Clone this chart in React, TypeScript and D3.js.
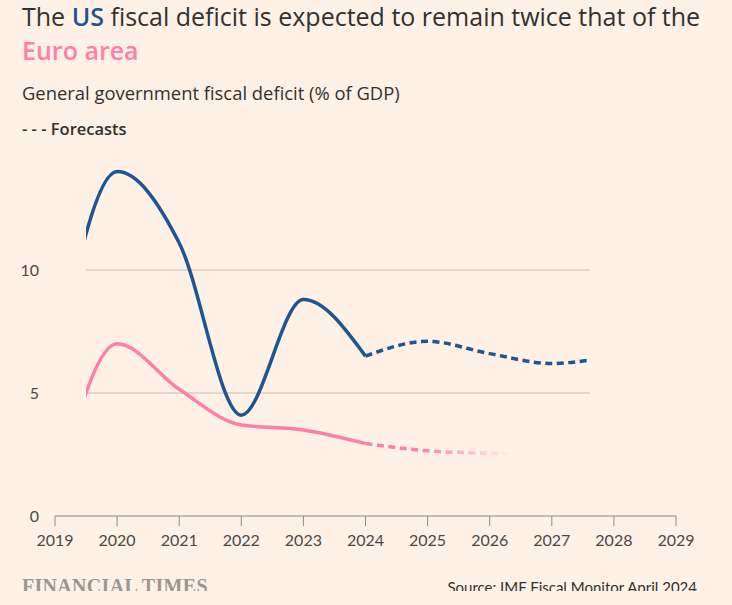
import React from "react";
import * as d3 from "d3";

const years = [2019, 2020, 2021, 2022, 2023, 2024, 2025, 2026, 2027, 2028, 2029];
const usValues = [5.9, 14.0, 11.1, 4.1, 8.8, 6.5, 7.1, 6.6, 6.2, 6.4, 6.0];
const euroValues = [0.6, 7.0, 5.15, 3.7, 3.5, 2.95, 2.65, 2.55, 2.5, 2.45, 2.4];
const forecastStart = 2024;
const yTicks = [0, 5, 10];
const xTicks = [2019, 2020, 2021, 2022, 2023, 2024, 2025, 2026, 2027, 2028, 2029];

const W = 732;
const H = 605;
const BG = "#fff1e5";
const BLUE = "#1f5591";
const PINK = "#ff7fa8";
const TEXT = "#33302e";
const FONT = "Lato, 'Noto Sans', sans-serif";
const HEAD_FONT = "'Open Sans', 'Noto Sans', sans-serif";

export default function App() {
  const x = d3.scaleLinear().domain([2019, 2029]).range([55, 676]);
  const y = d3.scaleLinear().domain([0, 10]).range([516, 270]);
  const plotLeft = 86;
  const plotRight = 590;

  const line = d3
    .line<[number, number]>()
    .x((d) => x(d[0]))
    .y((d) => y(d[1]))
    .curve(d3.curveMonotoneX);

  const split = (vals: number[]) => {
    const pts: [number, number][] = years.map((yr, i) => [yr, vals[i]]);
    return {
      actual: pts.filter((p) => p[0] <= forecastStart),
      forecast: pts.filter((p) => p[0] >= forecastStart),
    };
  };
  const us = split(usValues);
  const eu = split(euroValues);

  return (
    <svg
      width={W}
      height={H}
      style={{ position: "absolute", left: 0, top: 0, display: "block" }}
    >
      <defs>
        <clipPath id="plotClip">
          <rect x={plotLeft} y={0} width={plotRight - plotLeft} height={H} />
        </clipPath>
        <clipPath id="pageClip">
          <rect x={0} y={0} width={W} height={591} />
        </clipPath>
        <linearGradient
          id="euFade"
          gradientUnits="userSpaceOnUse"
          x1={420}
          y1={0}
          x2={512}
          y2={0}
        >
          <stop offset="0" stopColor={PINK} stopOpacity={1} />
          <stop offset="1" stopColor={PINK} stopOpacity={0} />
        </linearGradient>
      </defs>
      <rect x={0} y={0} width={W} height={H} fill={BG} />

      {/* Title */}
      <text x={22} y={26} fontFamily={HEAD_FONT} fontSize={25} fill={TEXT}>
        The{" "}
        <tspan fill={BLUE} fontWeight={600}>
          US
        </tspan>{" "}
        fiscal deficit is expected to remain twice that of the
      </text>
      <text x={22} y={60} fontFamily={HEAD_FONT} fontSize={25} fill={PINK} fontWeight={600}>
        Euro area
      </text>
      <text x={22} y={100} fontFamily={HEAD_FONT} fontSize={18.4} fill={TEXT}>
        General government fiscal deficit (% of GDP)
      </text>
      <text x={22} y={135} fontFamily={HEAD_FONT} fontSize={16.5} fill={TEXT} fontWeight={600}>
        - - - Forecasts
      </text>

      {/* Grid */}
      {yTicks
        .filter((t) => t > 0)
        .map((t) => (
          <line
            key={t}
            x1={plotLeft}
            x2={plotRight}
            y1={y(t)}
            y2={y(t)}
            stroke="#c8bbb0"
            strokeWidth={1}
          />
        ))}
      {yTicks.map((t) => (
        <text
          key={"yl" + t}
          x={39}
          y={y(t)}
          dy="0.35em"
          textAnchor="end"
          fontFamily={FONT}
          fontSize={16}
          fill="#4d4845"
        >
          {t}
        </text>
      ))}

      {/* X axis */}
      <line x1={x(2019)} x2={x(2029)} y1={y(0)} y2={y(0)} stroke="#8f8983" strokeWidth={1} />
      {xTicks.map((t) => (
        <g key={"xt" + t}>
          <line x1={x(t)} x2={x(t)} y1={y(0)} y2={y(0) + 10} stroke="#8f8983" strokeWidth={1} />
          <text
            x={x(t)}
            y={546}
            textAnchor="middle"
            fontFamily={FONT}
            fontSize={16}
            fill="#4d4845"
          >
            {t}
          </text>
        </g>
      ))}

      {/* Lines */}
      <g clipPath="url(#plotClip)" fill="none" strokeLinecap="butt">
        <path d={line(eu.actual) || ""} stroke={PINK} strokeWidth={3.5} />
        <path
          d={line(eu.forecast) || ""}
          stroke="url(#euFade)"
          strokeWidth={3.5}
          strokeDasharray="7,4.5"
        />
        <path d={line(us.actual) || ""} stroke={BLUE} strokeWidth={3.5} />
        <path
          d={line(us.forecast) || ""}
          stroke={BLUE}
          strokeWidth={3.5}
          strokeDasharray="7,4.5"
        />
      </g>

      {/* Footer */}
      <g clipPath="url(#pageClip)">
        <text
          x={22}
          y={593}
          fontFamily="'Liberation Serif', 'DejaVu Serif', serif"
          fontSize={20}
          fontWeight={700}
          fill="#9e9590"
          letterSpacing={0.3}
        >
          FINANCIAL TIMES
        </text>
        <text
          x={697}
          y={593}
          textAnchor="end"
          fontFamily={FONT}
          fontSize={15}
          fill={TEXT}
        >
          Source: IMF Fiscal Monitor April 2024
        </text>
      </g>
    </svg>
  );
}
